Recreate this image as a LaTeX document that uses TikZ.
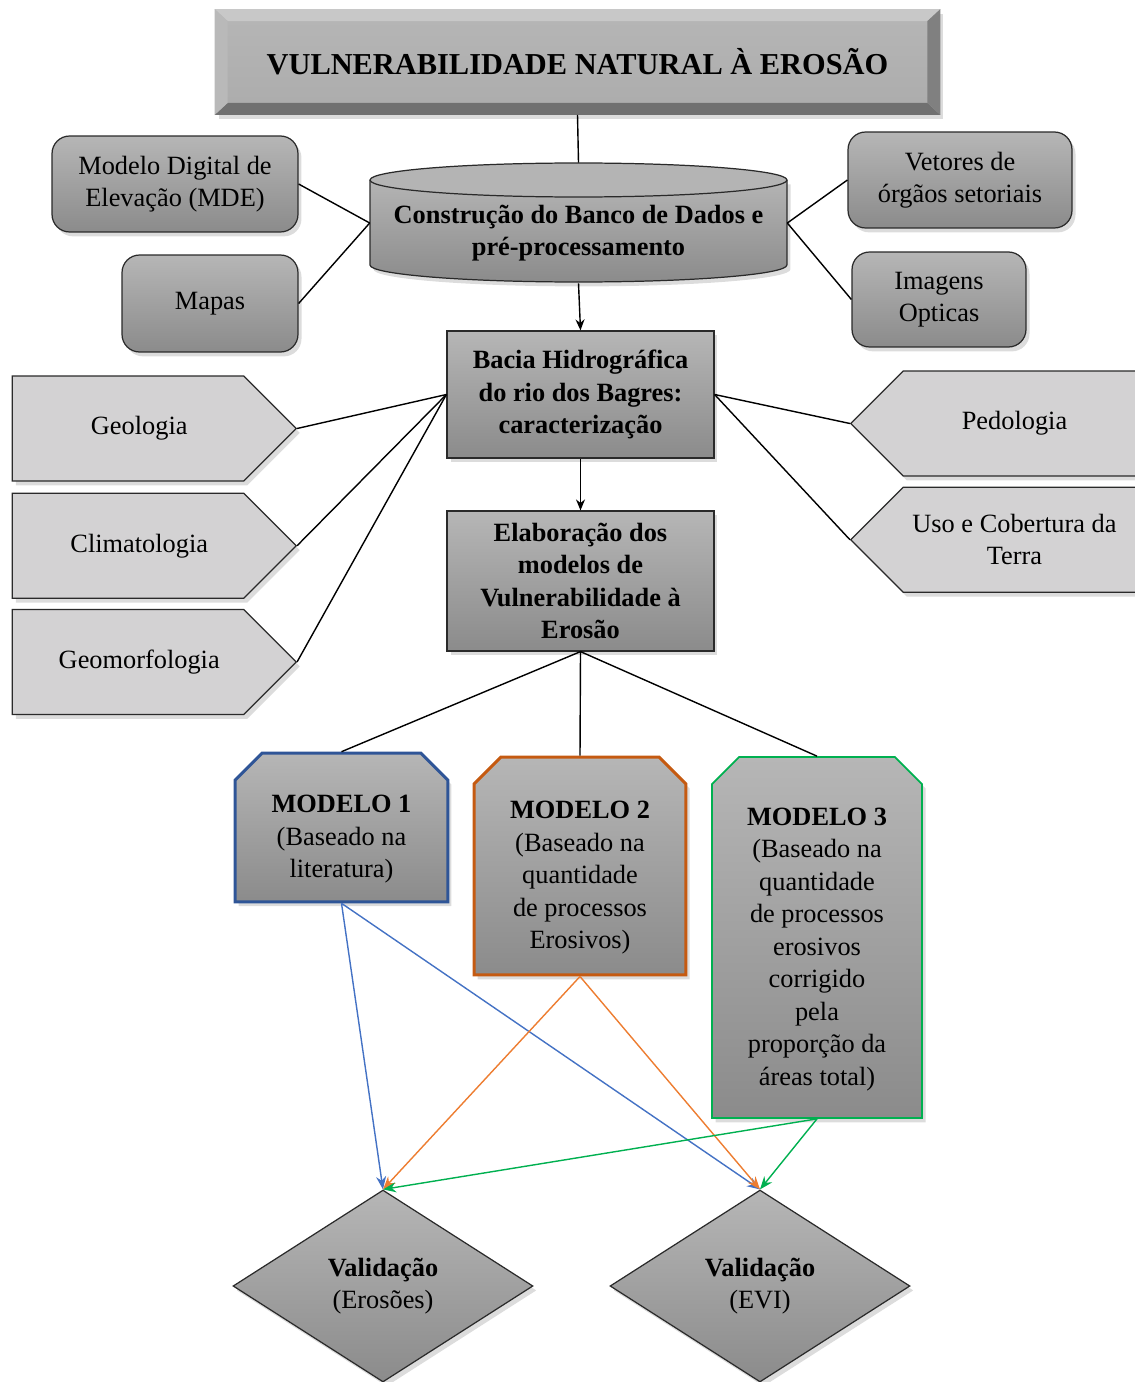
\documentclass[tikz,border=0pt]{standalone}
\usepackage{fontspec}
\setmainfont{Liberation Serif}
\usetikzlibrary{arrows.meta, positioning, shapes.geometric, shapes.misc,
  shapes.symbols, shadows, calc}
\definecolor{boxTop}{HTML}{B6B6B6}
\definecolor{boxBot}{HTML}{8B8B8B}
\definecolor{lidGray}{HTML}{B4B4B4}
\definecolor{tagGray}{HTML}{D3D2D3}
\definecolor{edgeDark}{HTML}{2A2A2A}
\definecolor{bevTop}{HTML}{C8C8C8}
\definecolor{bevLeft}{HTML}{B9B9B9}
\definecolor{bevRight}{HTML}{808080}
\definecolor{bevBot}{HTML}{707070}
\definecolor{modBlue}{HTML}{2F5597}
\definecolor{modOrange}{HTML}{C55A11}
\definecolor{modGreen}{HTML}{00B050}
\definecolor{lnBlue}{HTML}{4472C4}
\definecolor{lnOrange}{HTML}{ED7D31}
\definecolor{lnGreen}{HTML}{00B050}
\newcommand{\bodyfont}{\fontsize{15}{18.5}\selectfont}
\newcommand{\modtop}{\rule{0pt}{0.82cm}}
\tikzset{
  shadowG/.style={drop shadow={opacity=0.28, shadow xshift=2pt, shadow yshift=-2.5pt}},
  edgeK/.style={draw=edgeDark, line width=0.7pt},
  lineK/.style={black, line width=0.8pt},
  arrowK/.style={-{Stealth[length=2.2mm, width=1.8mm]}, black, line width=0.8pt},
  arrowB/.style={-{Stealth[length=2.6mm, width=2mm]}, lnBlue, line width=0.8pt},
  arrowO/.style={-{Stealth[length=2.6mm, width=2mm]}, lnOrange, line width=0.8pt},
  arrowG/.style={-{Stealth[length=2.6mm, width=2mm]}, lnGreen, line width=0.8pt},
  boxG/.style={rectangle, edgeK, top color=boxTop, bottom color=boxBot,
               align=center, font=\bodyfont, inner sep=3pt, shadowG},
  boxRound/.style={boxG, rounded corners=10pt},
  boxBold/.style={boxG, font=\bodyfont\bfseries},
  tagL/.style={signal, signal to=east, signal pointer angle=90, edgeK, fill=tagGray,
               font=\bodyfont, align=center, minimum width=5.68cm, minimum height=2.1cm, shadowG},
  tagR/.style={tagL, signal to=west},
  modelBox/.style={chamfered rectangle, chamfered rectangle corners={north west, north east},
                   chamfered rectangle xsep=0.24cm, chamfered rectangle ysep=0.3cm,
                   top color=boxTop, bottom color=boxBot, align=center, font=\bodyfont,
                   inner sep=2pt, shadowG},
  validBox/.style={diamond, edgeK, top color=boxTop, bottom color=boxBot, align=center,
                   font=\bodyfont, minimum width=6cm, minimum height=3.84cm, shadowG},
}
\begin{document}
\begin{tikzpicture}[x=0.02cm, y=-0.02cm]
\useasboundingbox (0,0) rectangle (1135,1382);

% titulo
\node[rectangle, top color=boxTop, bottom color=lidGray!80!boxBot, minimum width=14.5cm,
      minimum height=2.1cm, font=\fontsize{17.3}{20}\selectfont\bfseries, shadowG]
  (title) at (577.5,62) {VULNERABILIDADE NATURAL À EROSÃO};
\fill[bevTop] (title.north west) -- (title.north east) -- ([shift={(-13,12)}]title.north east)
  -- ([shift={(13,12)}]title.north west) -- cycle;
\fill[bevBot] (title.south west) -- (title.south east) -- ([shift={(-13,-12)}]title.south east)
  -- ([shift={(13,-12)}]title.south west) -- cycle;
\fill[bevLeft] (title.north west) -- (title.south west) -- ([shift={(13,-12)}]title.south west)
  -- ([shift={(13,12)}]title.north west) -- cycle;
\fill[bevRight] (title.north east) -- (title.south east) -- ([shift={(-13,-12)}]title.south east)
  -- ([shift={(-13,12)}]title.north east) -- cycle;

% banco de dados (cilindro)
\node[minimum width=8.34cm, minimum height=2.4cm] (cyl) at (578.5,223) {};
\path[top color=lidGray, bottom color=boxBot, shadowG] (370,180) -- (370,265)
  arc[start angle=180, end angle=360, x radius=4.17cm, y radius=0.34cm] -- (787,180) -- cycle;
\draw[edgeK] (370,180) -- (370,265)
  arc[start angle=180, end angle=360, x radius=4.17cm, y radius=0.34cm] -- (787,180);
\draw[edgeK, fill=lidGray] (578.5,180) ellipse[x radius=4.17cm, y radius=0.34cm];
\node[font=\bodyfont\bfseries, align=center] (cyltxt) at (578.5,233)
  {Construção do Banco de Dados e\\pré-processamento};

\node[boxRound, minimum width=4.92cm, minimum height=1.92cm] (mde) at (175,184)
  {Modelo Digital de\\Elevação (MDE)};
\node[boxRound, minimum width=3.52cm, minimum height=1.94cm] (mapas) at (210,303.5) {Mapas};
\node[boxRound, minimum width=4.48cm, minimum height=1.92cm] (vetores) at (960,180)
  {Vetores de\\órgãos setoriais};
\node[boxRound, minimum width=3.48cm, minimum height=1.9cm] (imagens) at (939,299.5)
  {Imagens\\Opticas};

\node[boxBold, minimum width=5.34cm, minimum height=2.54cm] (bacia) at (580.5,394.5)
  {Bacia Hidrográfica\\do rio dos Bagres:\\caracterização};
\node[boxBold, minimum width=5.34cm, minimum height=2.8cm] (elab) at (580.5,581)
  {Elaboração dos\\modelos de\\Vulnerabilidade à\\Erosão};

% temas
\node[tagL] (geo) at (128,428.5) {\hspace*{0.45cm}Geologia};
\node[tagL, below=0.22cm of geo] (clima) {\hspace*{0.45cm}Climatologia};
\node[tagL, below=0.2cm of clima] (geomorf) {\hspace*{0.45cm}Geomorfologia};
\node[tagR, minimum width=5.8cm] (pedo) at (1022,423.5) {Pedologia\hspace*{0.3cm}};
\node[tagR, minimum width=5.8cm, below=0.2cm of pedo] (uso)
  {Uso e Cobertura da\hspace*{0.3cm}\\Terra\hspace*{0.3cm}};

% modelos
\node[modelBox, draw=modBlue, line width=1.7pt, minimum width=4.26cm, minimum height=2.9cm]
  (m1) at (341.5,827.5) {\modtop\textbf{MODELO 1}\\(Baseado na\\literatura)};
\node[modelBox, draw=modOrange, line width=1.7pt, minimum width=4.24cm, minimum height=4.36cm]
  (m2) at (580,866) {\modtop\textbf{MODELO 2}\\(Baseado na\\quantidade\\de processos\\Erosivos)};
\node[modelBox, draw=modGreen, line width=1pt, minimum width=4.2cm, minimum height=7.22cm]
  (m3) at (817,937.5) {\modtop\textbf{MODELO 3}\\(Baseado na\\quantidade\\de processos\\erosivos\\corrigido\\pela\\proporção da\\áreas total)};

\node[validBox] (val1) at (383,1286) {\textbf{Validação}\\(Erosões)};
\node[validBox] (val2) at (760,1286) {\textbf{Validação}\\(EVI)};

% ligacoes
\draw[lineK] (title.south) -- (cyl.north);
\draw[lineK] (mde.east) -- (cyl.west);
\draw[lineK] (mapas.east) -- (cyl.west);
\draw[lineK] (cyl.east) -- (vetores.west);
\draw[lineK] (cyl.east) -- (imagens.west);
\draw[arrowK] (cyl.south) -- (bacia.north);
\draw[arrowK] (bacia.south) -- (elab.north);
\foreach \t in {geo, clima, geomorf}
  \draw[lineK] (\t.east) -- (bacia.west);
\foreach \t in {pedo, uso}
  \draw[lineK] (\t.west) -- (bacia.east);
\foreach \m in {m1, m2, m3}
  \draw[lineK] (elab.south) -- (\m.north);
\draw[arrowB] (m1.south) -- (val1.north);
\draw[arrowB] (m1.south) -- (val2.north);
\draw[arrowO] (m2.south) -- (val1.north);
\draw[arrowO] (m2.south) -- (val2.north);
\draw[arrowG] (m3.south) -- (val1.north);
\draw[arrowG] (m3.south) -- (val2.north);
\end{tikzpicture}
\end{document}
